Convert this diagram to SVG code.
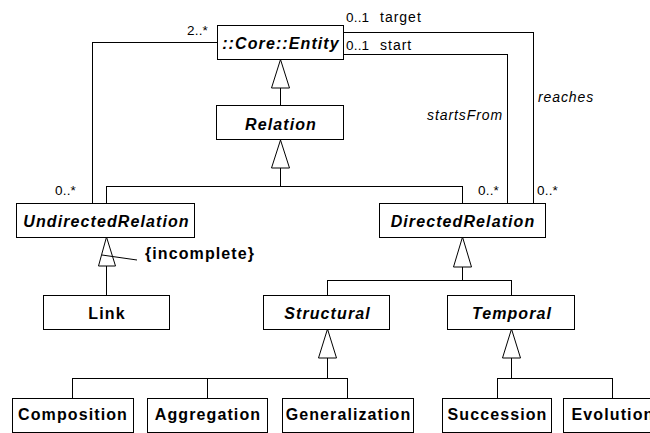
<svg xmlns="http://www.w3.org/2000/svg" width="650" height="433" viewBox="0 0 650 433">
  <style>
    .box { fill: #ffffff; stroke: #000000; stroke-width: 1; }
    .line { fill: none; stroke: #000000; stroke-width: 1; }
    .tri { fill: #ffffff; stroke: #000000; stroke-width: 1; }
    .name { font-family: "Liberation Sans", Arial, sans-serif; font-size: 16px; font-weight: bold; letter-spacing: 1.1px; text-anchor: middle; fill: #000000; }
    .abstract { font-style: italic; }
    .constraint { text-anchor: start; }
    .label { font-family: "Liberation Sans", Arial, sans-serif; font-size: 14px; fill: #000000; }
    .mult { font-size: 13.5px; letter-spacing: 0.2px; }
    .role { letter-spacing: 1px; }
    .assoc { font-style: italic; letter-spacing: 0.9px; }
    .end { text-anchor: end; }
  </style>
  <rect width="650" height="433" fill="#ffffff"/>

  <!-- connectors -->
  <g id="connectors" shape-rendering="crispEdges">
    <!-- associations -->
    <path class="line" d="M217.5,42.5 H92.5 V203"/>
    <path class="line" d="M343,32.5 H533.5 V203"/>
    <path class="line" d="M343,54.5 H507.5 V203"/>
    <!-- Entity <- Relation -->
    <path class="line" d="M280.5,88 V105"/>
    <!-- Relation <- Undirected / Directed -->
    <path class="line" d="M280.5,168 V186.5 M106.5,203 V186.5 H462.5 V203"/>
    <!-- Undirected <- Link -->
    <path class="line" d="M106.5,266 V295"/>
    <!-- Directed <- Structural / Temporal -->
    <path class="line" d="M462.5,267 V280.5 M327.5,295 V280.5 H511.5 V295"/>
    <!-- Structural <- Composition / Aggregation / Generalization -->
    <path class="line" d="M327.5,358 V378.5 M72.5,398 V378.5 H347.5 V398 M207.5,378.5 V398"/>
    <!-- Temporal <- Succession / Evolution -->
    <path class="line" d="M511.5,358 V378.5 M497.5,398 V378.5 H612.5 V398"/>
  </g>
  <g id="arrowheads">
    <polygon class="tri" points="280.5,59.5 271.5,88 289.5,88"/>
    <polygon class="tri" points="280.5,140 271.5,168 289.5,168"/>
    <polygon class="tri" points="106.5,237 98.5,266 115.5,266"/>
    <polygon class="tri" points="462.5,237 453.5,267 471.5,267"/>
    <polygon class="tri" points="327.5,329 318.5,358 336.5,358"/>
    <polygon class="tri" points="511.5,329 502.5,358 520.5,358"/>
    <!-- constraint note leader -->
    <line class="line" x1="102" y1="255" x2="137" y2="260"/>
  </g>

  <!-- association end labels -->
  <g id="labels">
    <text class="label mult" x="187" y="35">2..*</text>
    <text class="label mult" x="55" y="195">0..*</text>
    <text class="label mult" x="346" y="21.5">0..1</text>
    <text class="label role" x="380" y="21.5">target</text>
    <text class="label mult" x="346" y="50">0..1</text>
    <text class="label role" x="380" y="50">start</text>
    <text class="label assoc end" x="503" y="120">startsFrom</text>
    <text class="label assoc" x="538" y="102">reaches</text>
    <text class="label mult" x="478" y="195">0..*</text>
    <text class="label mult" x="537" y="195">0..*</text>
    <text class="name constraint" x="145" y="259">{incomplete}</text>
  </g>

  <!-- classes -->
  <g id="Entity">
    <rect class="box" x="217.5" y="25.5" width="126" height="34"/>
    <text class="name abstract" x="281" y="48.5">::Core::Entity</text>
  </g>
  <g id="Relation">
    <rect class="box" x="216.5" y="105.5" width="127" height="34"/>
    <text class="name abstract" x="281" y="129.5">Relation</text>
  </g>
  <g id="UndirectedRelation">
    <rect class="box" x="16.5" y="203.5" width="178" height="34"/>
    <text class="name abstract" x="106.5" y="226.5">UndirectedRelation</text>
  </g>
  <g id="DirectedRelation">
    <rect class="box" x="379.5" y="203.5" width="166" height="34"/>
    <text class="name abstract" x="463" y="226.5">DirectedRelation</text>
  </g>
  <g id="Link">
    <rect class="box" x="43.5" y="295.5" width="126" height="34"/>
    <text class="name" x="107" y="318.5">Link</text>
  </g>
  <g id="Structural">
    <rect class="box" x="263.5" y="295.5" width="126" height="34"/>
    <text class="name abstract" x="327.5" y="318.5">Structural</text>
  </g>
  <g id="Temporal">
    <rect class="box" x="447.5" y="295.5" width="127" height="34"/>
    <text class="name abstract" x="512" y="318.5">Temporal</text>
  </g>
  <g id="Composition">
    <rect class="box" x="12.5" y="398.5" width="121" height="34"/>
    <text class="name" x="73" y="420">Composition</text>
  </g>
  <g id="Aggregation">
    <rect class="box" x="147.5" y="398.5" width="120" height="34"/>
    <text class="name" x="208" y="420">Aggregation</text>
  </g>
  <g id="Generalization">
    <rect class="box" x="282.5" y="398.5" width="131" height="34"/>
    <text class="name" x="348.5" y="420">Generalization</text>
  </g>
  <g id="Succession">
    <rect class="box" x="442.5" y="398.5" width="109" height="34"/>
    <text class="name" x="497.5" y="420">Succession</text>
  </g>
  <g id="Evolution">
    <rect class="box" x="563.5" y="398.5" width="98" height="34"/>
    <text class="name" x="613" y="420">Evolution</text>
  </g>
</svg>
